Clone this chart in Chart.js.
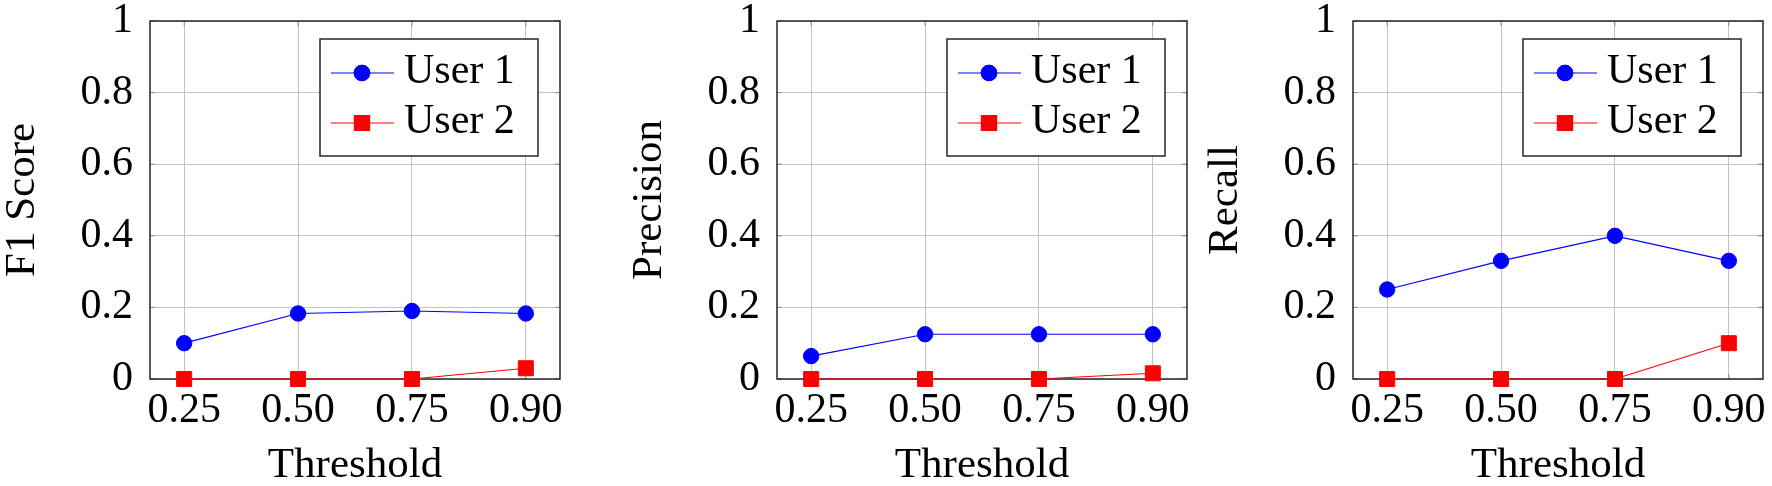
<!DOCTYPE html>
<html>
<head>
<meta charset="utf-8">
<title>User thresholds</title>
<script src="https://cdn.jsdelivr.net/npm/chart.js@4.4.1/dist/chart.umd.min.js"></script>
<style>
  html, body { margin: 0; padding: 0; background: #ffffff; overflow: hidden; }
  body { width: 1772px; height: 486px; position: relative; }
  .panel { position: absolute; top: 0; width: 575px; height: 486px; }
</style>
</head>
<body>
<div class="panel" style="left: 0px;"><canvas id="f1Chart"></canvas></div>
<div class="panel" style="left: 627px;"><canvas id="precisionChart"></canvas></div>
<div class="panel" style="left: 1203px;"><canvas id="recallChart"></canvas></div>

<script>
// Data
const thresholds = ['0.25', '0.50', '0.75', '0.90'];
const yTicks = [0, 0.2, 0.4, 0.6, 0.8, 1];
const seriesNames = ['User 1', 'User 2'];

const f1User1 = [0.10, 0.183, 0.19, 0.183];
const f1User2 = [0, 0, 0, 0.03];

const precisionUser1 = [0.064, 0.125, 0.125, 0.125];
const precisionUser2 = [0, 0, 0, 0.016];

const recallUser1 = [0.25, 0.33, 0.40, 0.33];
const recallUser2 = [0, 0, 0, 0.10];

const serif = '"Liberation Serif", "Times New Roman", serif';
const gridColor = '#c4c4c4';

// Box around the plot area plus the small inner tick marks
const framePlugin = {
    id: 'frame',
    beforeDatasetsDraw(chart) {
        const { ctx, chartArea: a, scales } = chart;
        ctx.save();
        ctx.strokeStyle = '#8a8a8a';
        ctx.lineWidth = 1;
        ctx.beginPath();
        scales.x.ticks.forEach(t => {
            const px = scales.x.getPixelForValue(t.value);
            ctx.moveTo(px, a.bottom); ctx.lineTo(px, a.bottom - 5);
            ctx.moveTo(px, a.top); ctx.lineTo(px, a.top + 5);
        });
        scales.y.ticks.forEach(t => {
            const py = scales.y.getPixelForValue(t.value);
            ctx.moveTo(a.left, py); ctx.lineTo(a.left + 5, py);
            ctx.moveTo(a.right, py); ctx.lineTo(a.right - 5, py);
        });
        ctx.stroke();
        ctx.strokeStyle = '#262626';
        ctx.lineWidth = 1.5;
        ctx.strokeRect(a.left, a.top, a.right - a.left, a.bottom - a.top);
        ctx.restore();
    }
};

// pgfplots style legend: framed box in the top right corner, line + marker per entry
const boxLegendPlugin = {
    id: 'boxLegend',
    afterDatasetsDraw(chart) {
        const { ctx, chartArea: a } = chart;
        const w = 218, h = 117;
        const left = a.right - 22 - w;
        const top = a.top + 18;
        ctx.save();
        ctx.fillStyle = '#ffffff';
        ctx.fillRect(left, top, w, h);
        ctx.strokeStyle = '#262626';
        ctx.lineWidth = 1.5;
        ctx.strokeRect(left, top, w, h);

        chart.data.datasets.forEach((ds, i) => {
            const y = top + 34 + i * 50;
            ctx.strokeStyle = ds.borderColor;
            ctx.lineWidth = ds.borderWidth;
            ctx.beginPath();
            ctx.moveTo(left + 11, y);
            ctx.lineTo(left + 74, y);
            ctx.stroke();
            Chart.helpers.drawPoint(ctx, {
                pointStyle: ds.pointStyle,
                radius: ds.pointRadius,
                borderWidth: 1,
                rotation: 0
            }, left + 42, y);
            ctx.fillStyle = ds.backgroundColor;
            ctx.strokeStyle = ds.borderColor;
            ctx.fill();
            ctx.stroke();

            ctx.fillStyle = '#000000';
            ctx.font = '42px ' + serif;
            ctx.textAlign = 'left';
            ctx.textBaseline = 'middle';
            ctx.fillText(ds.label, left + 84, y - 1);
        });
        ctx.restore();
    }
};

function makeDataset(label, values, color, style, radius) {
    return {
        label: label,
        data: values.map((v, i) => ({ x: i, y: v })),
        borderColor: color,
        backgroundColor: color,
        borderWidth: 1.2,
        pointStyle: style,
        pointRadius: radius,
        pointBorderWidth: 1,
        pointHoverRadius: radius,
        clip: false,
        tension: 0
    };
}

function renderPanel(canvasId, yTitle, user1, user2) {
    const ctx = document.getElementById(canvasId).getContext('2d');
    new Chart(ctx, {
        type: 'line',
        data: {
            datasets: [
                makeDataset(seriesNames[0], user1, 'rgb(0, 0, 255)', 'circle', 7.7),
                makeDataset(seriesNames[1], user2, 'rgb(255, 0, 0)', 'rect', 10.6)
            ]
        },
        options: {
            responsive: true,
            maintainAspectRatio: false,
            animation: false,
            events: [],
            layout: { padding: { top: 21, right: 15, bottom: 0, left: 0 } },
            plugins: {
                legend: { display: false },
                tooltip: { enabled: false }
            },
            scales: {
                x: {
                    type: 'linear',
                    min: -0.3,
                    max: 3.3,
                    afterBuildTicks: axis => { axis.ticks = thresholds.map((t, i) => ({ value: i })); },
                    afterFit: axis => { axis.height = 107; },
                    ticks: {
                        padding: 0,
                        color: '#000000',
                        autoSkip: false,
                        maxRotation: 0,
                        font: { family: serif, size: 42, lineHeight: 1.2 },
                        callback: value => thresholds[value]
                    },
                    grid: { color: gridColor, lineWidth: 1, tickLength: 7, tickColor: 'rgba(0,0,0,0)' },
                    border: { display: false },
                    title: {
                        display: true,
                        text: 'Threshold',
                        color: '#000000',
                        padding: 0,
                        font: { family: serif, size: 43, lineHeight: 0.95 }
                    }
                },
                y: {
                    type: 'linear',
                    min: 0,
                    max: 1,
                    afterBuildTicks: axis => { axis.ticks = yTicks.map(v => ({ value: v })); },
                    afterFit: axis => { axis.width = 150; },
                    ticks: {
                        padding: 0,
                        color: '#000000',
                        font: { family: serif, size: 42, lineHeight: 1 },
                        callback: value => String(value)
                    },
                    grid: { color: gridColor, lineWidth: 1, tickLength: 17, tickColor: 'rgba(0,0,0,0)' },
                    border: { display: false },
                    title: {
                        display: true,
                        text: yTitle,
                        color: '#000000',
                        padding: 0,
                        font: { family: serif, size: 43, lineHeight: 1.07 }
                    }
                }
            }
        },
        plugins: [framePlugin, boxLegendPlugin]
    });
}

document.addEventListener('DOMContentLoaded', function () {
    renderPanel('f1Chart', 'F1 Score', f1User1, f1User2);
    renderPanel('precisionChart', 'Precision', precisionUser1, precisionUser2);
    renderPanel('recallChart', 'Recall', recallUser1, recallUser2);
});
</script>
</body>
</html>
